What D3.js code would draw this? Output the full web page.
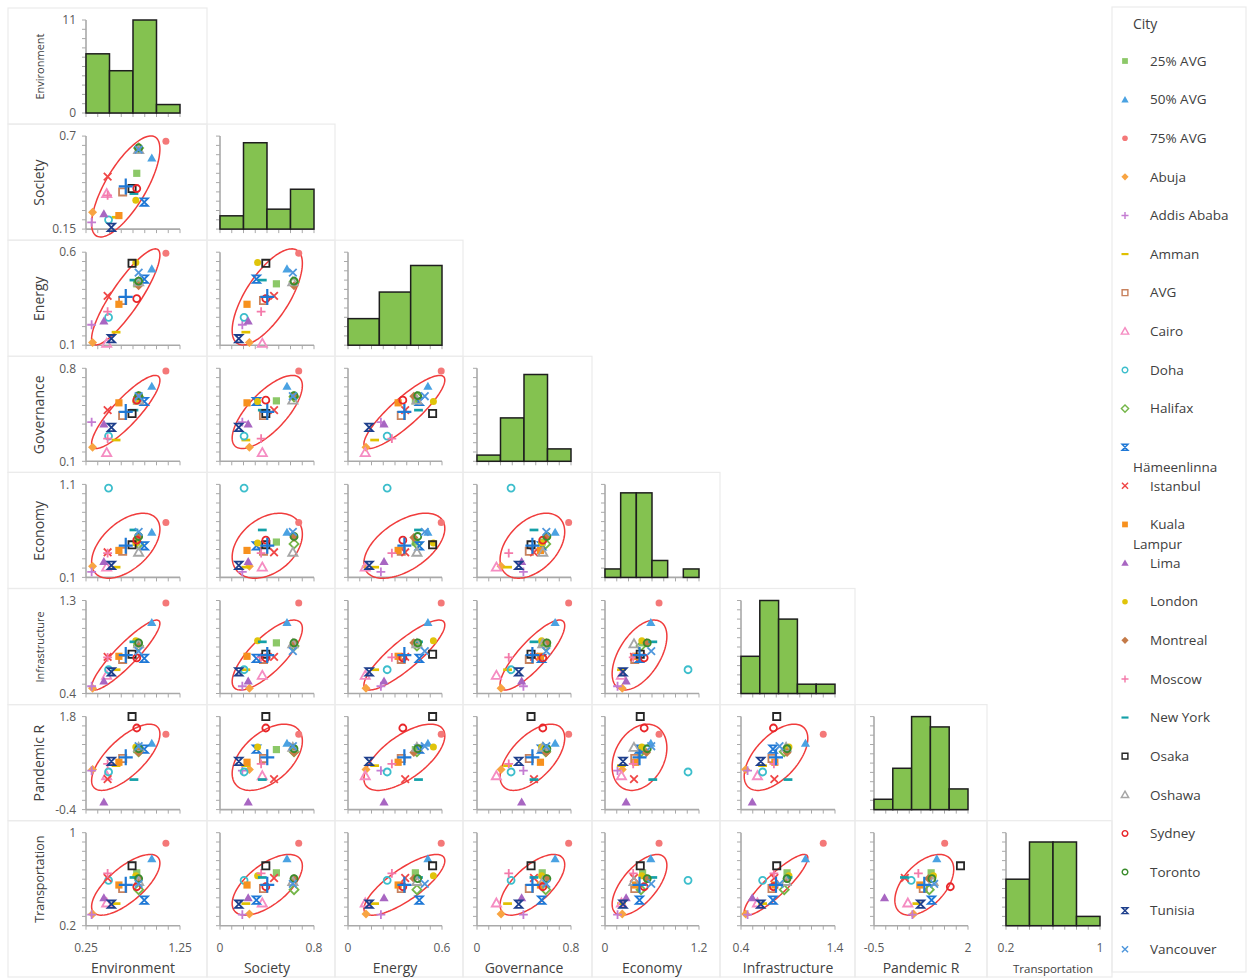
<!DOCTYPE html>
<html>
<head>
<meta charset="utf-8">
<script src="https://cdn.jsdelivr.net/npm/d3@7"></script>
<style>
  body { margin: 0; background: #fff; }
  text { font-family: "Open Sans", "Noto Sans", sans-serif; }
</style>
</head>
<body>
<svg id="chart" width="1258" height="980"></svg>
<script>
// ---- data -------------------------------------------------------------
const variableNames = ["Environment", "Society", "Energy", "Governance", "Economy",
                       "Infrastructure", "Pandemic R", "Transportation"];

const cities = ["25% AVG", "50% AVG", "75% AVG", "Abuja", "Addis Ababa", "Amman", "AVG",
                "Cairo", "Doha", "Halifax", "Hämeenlinna", "Istanbul", "Kuala Lampur",
                "Lima", "London", "Montreal", "Moscow", "New York", "Osaka", "Oshawa",
                "Sydney", "Toronto", "Tunisia", "Vancouver"];

const environment    = [0.79, 0.95, 1.10, 0.32, 0.31, 0.57, 0.64, 0.47, 0.49, 0.81, 0.87, 0.48,
                        0.60, 0.44, 0.78, 0.81, 0.48, 0.76, 0.74, 0.81, 0.79, 0.81, 0.52, 0.81];
const society        = [0.48, 0.57, 0.67, 0.25, 0.19, 0.22, 0.37, 0.36, 0.205, 0.63, 0.31, 0.46,
                        0.23, 0.24, 0.32, 0.63, 0.35, 0.36, 0.39, 0.62, 0.39, 0.63, 0.16, 0.62];
const energy         = [0.43, 0.51, 0.595, 0.115, 0.21, 0.17, 0.34, 0.11, 0.25, 0.44, 0.455, 0.365,
                        0.32, 0.23, 0.545, 0.42, 0.28, 0.45, 0.54, 0.44, 0.35, 0.445, 0.135, 0.49];
const governance     = [0.555, 0.665, 0.78, 0.205, 0.395, 0.26, 0.445, 0.165, 0.29, 0.585, 0.55, 0.485,
                        0.54, 0.38, 0.55, 0.59, 0.27, 0.485, 0.46, 0.56, 0.56, 0.595, 0.355, 0.59];
const economy        = [0.48, 0.585, 0.69, 0.22, 0.16, 0.21, 0.38, 0.21, 1.06, 0.46, 0.44, 0.37,
                        0.39, 0.27, 0.47, 0.53, 0.36, 0.61, 0.45, 0.37, 0.50, 0.54, 0.23, 0.59];
const infrastructure = [0.89, 1.086, 1.275, 0.45, 0.47, 0.63, 0.73, 0.575, 0.63, 0.86, 0.74, 0.755,
                        0.76, 0.52, 0.91, 0.89, 0.75, 0.90, 0.78, 0.88, 0.745, 0.89, 0.61, 0.81];
const pandemicR      = [1.02, 1.17, 1.38, 0.55, 0.52, 0.64, 0.81, 0.40, 0.49, 0.97, 1.03, 0.32,
                        0.72, -0.22, 1.08, 0.95, 0.68, 0.31, 1.80, 1.07, 1.53, 1.04, 0.74, 1.10];
const transportation = [0.655, 0.775, 0.91, 0.30, 0.295, 0.39, 0.52, 0.395, 0.59, 0.51, 0.42, 0.61,
                        0.55, 0.44, 0.63, 0.605, 0.65, 0.615, 0.715, 0.58, 0.535, 0.605, 0.385, 0.56];

// end labels of the bottom (x) axes and of the left (y) axes
const xTickLabels = [["0.25", "1.25"], ["0", "0.8"], ["0", "0.6"], ["0", "0.8"],
                     ["0", "1.2"], ["0.4", "1.4"], ["-0.5", "2"], ["0.2", "1"]];
const yTickLabels = [["0", "11"], ["0.15", "0.7"], ["0.1", "0.6"], ["0.1", "0.8"],
                     ["0.1", "1.1"], ["0.4", "1.3"], ["-0.4", "1.8"], ["0.2", "1"]];
// histogram bin widths and count-axis maxima
const binSizes = [0.25, 0.2, 0.2, 0.2, 0.2, 0.2, 0.5, 0.2];
const histMax  = [11, 14, 14, 15, 11, 10, 9, 10];

// ---- marker styles -----------------------------------------------------
const markerStyle = {
  "25% AVG":      { shape: "square",    color: "#8cc868", filled: true },
  "50% AVG":      { shape: "triangle",  color: "#4aa2e2", filled: true },
  "75% AVG":      { shape: "circle",    color: "#f47878", filled: true },
  "Abuja":        { shape: "diamond",   color: "#f8a442", filled: true },
  "Addis Ababa":  { shape: "plus",      color: "#c47cd2" },
  "Amman":        { shape: "dash",      color: "#e0c000" },
  "AVG":          { shape: "square",    color: "#c8825e", filled: false },
  "Cairo":        { shape: "triangle",  color: "#f58cc2", filled: false },
  "Doha":         { shape: "circle",    color: "#3cbecc", filled: false },
  "Halifax":      { shape: "diamond",   color: "#74b648", filled: false },
  "Hämeenlinna":  { shape: "hourglass", color: "#1f78d6" },
  "Istanbul":     { shape: "cross",     color: "#f04646" },
  "Kuala Lampur": { shape: "square",    color: "#f7911e", filled: true },
  "Lima":         { shape: "triangle",  color: "#a866c2", filled: true },
  "London":       { shape: "circle",    color: "#e0c40a", filled: true },
  "Montreal":     { shape: "diamond",   color: "#c47a48", filled: true },
  "Moscow":       { shape: "plus",      color: "#f47aaa" },
  "New York":     { shape: "dash",      color: "#14a0a8" },
  "Osaka":        { shape: "square",    color: "#262626", filled: false },
  "Oshawa":       { shape: "triangle",  color: "#a6a6a6", filled: false },
  "Sydney":       { shape: "circle",    color: "#e8262a", filled: false },
  "Toronto":      { shape: "circle",    color: "#3a8c2c", filled: false },
  "Tunisia":      { shape: "hourglass", color: "#1e3f8c" },
  "Vancouver":    { shape: "cross",     color: "#4f97dc" }
};

function markerPath(shape, k) {
  const p = d3.path();
  if (shape === "square") { const s = 3.6 * k; p.rect(-s, -s, 2 * s, 2 * s); }
  else if (shape === "circle") { const r = 3.5 * k; p.arc(0, 0, r, 0, 2 * Math.PI); p.closePath(); }
  else if (shape === "triangle") { const s = 4.6 * k; p.moveTo(0, -s); p.lineTo(s, s * 0.75); p.lineTo(-s, s * 0.75); p.closePath(); }
  else if (shape === "diamond") { const s = 4.5 * k; p.moveTo(0, -s); p.lineTo(s, 0); p.lineTo(0, s); p.lineTo(-s, 0); p.closePath(); }
  else if (shape === "plus") { const s = 4.4 * k; p.moveTo(-s, 0); p.lineTo(s, 0); p.moveTo(0, -s); p.lineTo(0, s); }
  else if (shape === "cross") { const s = 3.8 * k; p.moveTo(-s, -s); p.lineTo(s, s); p.moveTo(s, -s); p.lineTo(-s, s); }
  else if (shape === "dash") { const s = 4.4 * k; p.moveTo(-s, 0); p.lineTo(s, 0); }
  else if (shape === "hourglass") { const s = 3.7 * k; p.moveTo(-s, -s); p.lineTo(s, -s); p.lineTo(-s, s); p.lineTo(s, s); p.closePath(); }
  return p.toString();
}

function drawMarker(g, city, x, y, k) {
  const st = markerStyle[city];
  g.append("path")
    .attr("d", markerPath(st.shape, k))
    .attr("transform", `translate(${x},${y})`)
    .attr("fill", st.filled ? st.color : "none")
    .attr("stroke", st.filled ? "none" : st.color)
    .attr("stroke-width", st.shape === "dash" ? 2.7 * k : 1.8 * k);
}

// ---- layout ------------------------------------------------------------
const svg = d3.select("#chart");
const series = [environment, society, energy, governance, economy, infrastructure, pandemicR, transportation];
const nV = variableNames.length;
const colLeft = [86, 220, 348, 477, 605, 741, 874, 1006];
const PW = 94, PH = 93;
const rowTop = d3.range(nV).map(i => 20 + i * 116.1);
const boxX = [8, 207, 335, 463, 592, 720, 855, 987, 1112];
const axisColor = "#a9a9a9";
const textColor = "#404040";

const xScales = d3.range(nV).map(j =>
  d3.scaleLinear().domain(xTickLabels[j].map(Number)).range([colLeft[j], colLeft[j] + PW]));
const yScales = d3.range(nV).map(i =>
  d3.scaleLinear().domain(yTickLabels[i].map(Number)).range([rowTop[i] + PH, rowTop[i]]));

// cell frames
const frames = svg.append("g");
for (let i = 0; i < nV; i++) {
  for (let j = 0; j <= i; j++) {
    const y0 = rowTop[i] - 12;
    const y1 = i === nV - 1 ? 977 : rowTop[i] + 104.1;
    frames.append("rect")
      .attr("x", boxX[j]).attr("y", y0)
      .attr("width", boxX[j + 1] - boxX[j]).attr("height", y1 - y0)
      .attr("fill", "none").attr("stroke", "#ebebeb").attr("stroke-width", 1.2);
  }
}

function drawAxes(g, x0, yTopPx, yBotPx) {
  // left axis with minor ticks
  g.append("line").attr("x1", x0).attr("x2", x0).attr("y1", yTopPx).attr("y2", yBotPx)
    .attr("stroke", axisColor).attr("stroke-width", 1.6);
  for (let t = 0; t <= 10; t++) {
    const y = yTopPx + (yBotPx - yTopPx) * t / 10;
    g.append("line").attr("x1", x0 - 4).attr("x2", x0).attr("y1", y).attr("y2", y)
      .attr("stroke", axisColor).attr("stroke-width", 1);
  }
  // bottom axis with minor ticks
  g.append("line").attr("x1", x0).attr("x2", x0 + PW).attr("y1", yBotPx).attr("y2", yBotPx)
    .attr("stroke", axisColor).attr("stroke-width", 1.6);
  for (let t = 0; t <= 8; t++) {
    const x = x0 + PW * t / 8;
    g.append("line").attr("x1", x).attr("x2", x).attr("y1", yBotPx).attr("y2", yBotPx + 4)
      .attr("stroke", axisColor).attr("stroke-width", 1);
  }
}

// 80% normal-theory ellipse
const ellipseK = Math.sqrt(-2 * Math.log(0.2));
function ellipsePoints(xs, ys) {
  const mx = d3.mean(xs), my = d3.mean(ys), n = xs.length;
  let sxx = 0, syy = 0, sxy = 0;
  for (let i = 0; i < n; i++) {
    sxx += (xs[i] - mx) ** 2; syy += (ys[i] - my) ** 2; sxy += (xs[i] - mx) * (ys[i] - my);
  }
  sxx /= n - 1; syy /= n - 1; sxy /= n - 1;
  const l11 = Math.sqrt(sxx), l21 = sxy / l11, l22 = Math.sqrt(Math.max(syy - l21 * l21, 0));
  return d3.range(0, 121).map(t => {
    const a = t / 120 * 2 * Math.PI, c = Math.cos(a), s = Math.sin(a);
    return [mx + ellipseK * l11 * c, my + ellipseK * (l21 * c + l22 * s)];
  });
}

const plots = svg.append("g");
for (let i = 0; i < nV; i++) {
  for (let j = 0; j <= i; j++) {
    const g = plots.append("g");
    const xS = xScales[j];
    const top = rowTop[i], bot = rowTop[i] + PH;
    if (i === j) {
      // histogram on the diagonal
      const dom = xTickLabels[j].map(Number);
      const bw = binSizes[j];
      const bins = d3.bin().domain(dom).thresholds(d3.range(dom[0] + bw, dom[1] - bw / 2, bw))(series[j]);
      const hy = d3.scaleLinear().domain([0, histMax[j]]).range([bot, top]);
      drawAxes(g, colLeft[j], top, bot);
      g.selectAll("rect.bar").data(bins).join("rect")
        .attr("x", b => xS(b.x0)).attr("width", b => xS(b.x1) - xS(b.x0))
        .attr("y", b => hy(b.length)).attr("height", b => bot - hy(b.length))
        .attr("fill", "#84c250").attr("stroke", "#1e1e1e").attr("stroke-width", 1.5)
        .attr("display", b => b.length ? null : "none");
    } else {
      const yS = yScales[i];
      drawAxes(g, colLeft[j], top, bot);
      const xs = series[j], ys = series[i];
      const pts = ellipsePoints(xs, ys);
      g.append("path")
        .attr("d", d3.line().x(p => xS(p[0])).y(p => yS(p[1])).curve(d3.curveLinearClosed)(pts))
        .attr("fill", "none").attr("stroke", "#f03c3c").attr("stroke-width", 1.5);
      cities.forEach((c, k) => drawMarker(g, c, xS(xs[k]), yS(ys[k]), 1));
      // centroid marker
      const cx = xS(d3.mean(xs)), cy = yS(d3.mean(ys));
      g.append("path").attr("d", `M${cx - 7},${cy}H${cx + 7}M${cx},${cy - 8}V${cy + 8}`)
        .attr("stroke", "#1f78d4").attr("stroke-width", 2.2).attr("fill", "none");
    }
  }
}

// y tick labels (first column)
const labels = svg.append("g").attr("fill", "#595959").style("font-size", "12px");
for (let i = 0; i < nV; i++) {
  const [lo, hi] = yTickLabels[i];
  labels.append("text").attr("x", colLeft[0] - 10).attr("y", rowTop[i] + PH).attr("dy", "0.35em")
    .attr("text-anchor", "end").text(lo);
  labels.append("text").attr("x", colLeft[0] - 10).attr("y", rowTop[i]).attr("dy", "0.35em")
    .attr("text-anchor", "end").text(hi);
}
// x tick labels (bottom row)
for (let j = 0; j < nV; j++) {
  const [lo, hi] = xTickLabels[j];
  labels.append("text").attr("x", colLeft[j]).attr("y", 952).attr("text-anchor", "middle").text(lo);
  labels.append("text").attr("x", colLeft[j] + PW).attr("y", 952).attr("text-anchor", "middle").text(hi);
}

// axis titles
const yTitleSize = { "Environment": 11, "Infrastructure": 11, "Transportation": 12.5 };
const titles = svg.append("g").attr("fill", textColor);
variableNames.forEach((name, i) => {
  const cy = rowTop[i] + PH / 2;
  titles.append("text")
    .attr("transform", `translate(44,${cy}) rotate(-90)`)
    .attr("text-anchor", "middle")
    .style("font-size", (yTitleSize[name] || 14) + "px")
    .text(name);
  titles.append("text")
    .attr("x", colLeft[i] + PW / 2).attr("y", 973)
    .attr("text-anchor", "middle")
    .style("font-size", (name === "Transportation" ? 11.5 : 14) + "px")
    .text(name);
});

// ---- legend --------------------------------------------------------------
const legend = svg.append("g");
legend.append("rect").attr("x", 1112).attr("y", 7).attr("width", 134).attr("height", 965)
  .attr("fill", "none").attr("stroke", "#ebebeb").attr("stroke-width", 1.2);
legend.append("text").attr("x", 1133).attr("y", 29).attr("fill", textColor)
  .style("font-size", "14px").text("City");
const legendLines = { "Hämeenlinna": ["", "Hämeenlinna"], "Kuala Lampur": ["Kuala", "Lampur"] };
cities.forEach((c, k) => {
  const y = 61 + k * 38.62;
  drawMarker(legend, c, 1125, y, 0.8);
  const lines = legendLines[c] || [c];
  lines.forEach((ln, li) => {
    if (!ln) return;
    legend.append("text")
      .attr("x", li === 0 ? 1150 : 1133).attr("y", y + li * 20).attr("dy", "0.35em")
      .attr("fill", textColor).style("font-size", "13.5px").text(ln);
  });
});
</script>
</body>
</html>
